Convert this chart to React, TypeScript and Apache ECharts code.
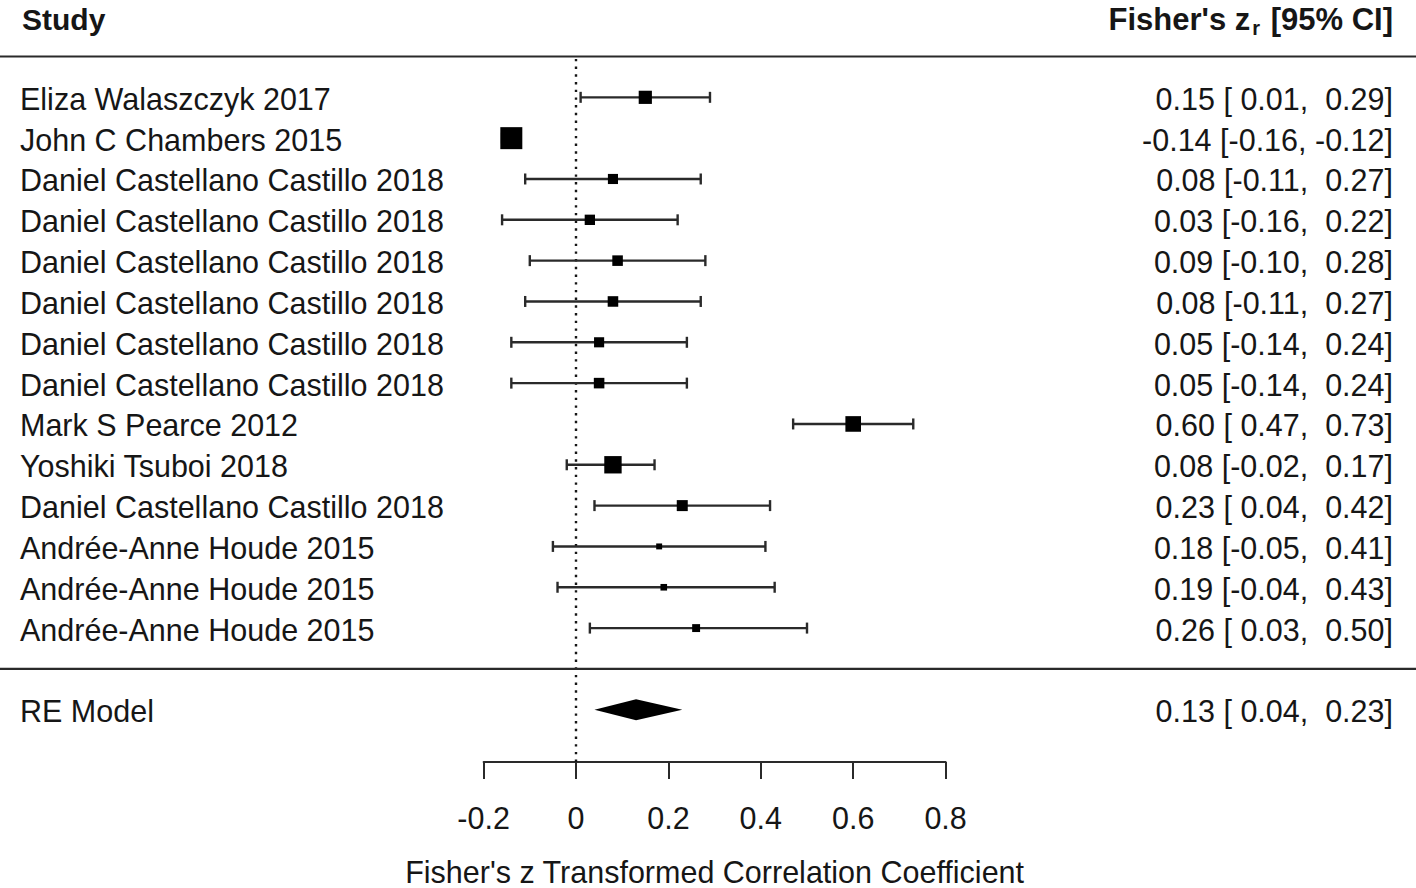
import React, { useEffect, useRef } from "react";
import * as echarts from "echarts";

// ---------- data ----------
const studies = [
  "Eliza Walaszczyk 2017",
  "John C Chambers 2015",
  "Daniel Castellano Castillo 2018",
  "Daniel Castellano Castillo 2018",
  "Daniel Castellano Castillo 2018",
  "Daniel Castellano Castillo 2018",
  "Daniel Castellano Castillo 2018",
  "Daniel Castellano Castillo 2018",
  "Mark S Pearce 2012",
  "Yoshiki Tsuboi 2018",
  "Daniel Castellano Castillo 2018",
  "Andrée-Anne Houde 2015",
  "Andrée-Anne Houde 2015",
  "Andrée-Anne Houde 2015",
];
const estimates = [0.15, -0.14, 0.08, 0.03, 0.09, 0.08, 0.05, 0.05, 0.6, 0.08, 0.23, 0.18, 0.19, 0.26];
const lowerCI = [0.01, -0.16, -0.11, -0.16, -0.1, -0.11, -0.14, -0.14, 0.47, -0.02, 0.04, -0.05, -0.04, 0.03];
const upperCI = [0.29, -0.12, 0.27, 0.22, 0.28, 0.27, 0.24, 0.24, 0.73, 0.17, 0.42, 0.41, 0.43, 0.5];
// relative study weights (square size, largest = 1)
const weights = [0.6, 1.0, 0.46, 0.47, 0.48, 0.48, 0.46, 0.48, 0.71, 0.79, 0.5, 0.27, 0.3, 0.36];

const summaryLabel = "RE Model";
const summaryEstimate = 0.13;
const summaryLower = 0.04;
const summaryUpper = 0.23;

const headerStudy = "Study";
const headerEffectMain = "Fisher's z";
const headerEffectSub = "r";
const headerEffectTail = "[95% CI]";
const axisTitle = "Fisher's z Transformed Correlation Coefficient";
const xMin = -0.2;
const xMax = 0.8;
const xStep = 0.2;

// row positions (R forest plot convention: k ... 1, summary at -1)
const rowY = studies.map((_, i) => studies.length - i);
const summaryY = -1;
const headerLineY = studies.length + 1;
const summaryLineY = 0;

// ---------- style ----------
const FONT = "'Liberation Sans', Arial, Helvetica, sans-serif";
const INK = "#161616";
const LINE = "#2a2a2a";
const MAX_BOX = 22;
const LEFT_X = 20;
const RIGHT_X = 1393;
const TEXT_SIZE = 30.5;

const fmtPad = (v: number) => (v < 0 ? v.toFixed(2) : " " + v.toFixed(2));
const ciText = (e: number, lo: number, hi: number) =>
  `${e.toFixed(2)} [${fmtPad(lo)}, ${fmtPad(hi)}]`;

export default function App() {
  const ref = useRef<HTMLDivElement>(null);

  useEffect(() => {
    document.body.style.margin = "0";
    const chart = echarts.init(ref.current!, null, { renderer: "svg" });

    const ctx = document.createElement("canvas").getContext("2d")!;
    ctx.font = `bold 31px ${FONT}`;
    const wTail = ctx.measureText(headerEffectTail).width;
    const wSpace = ctx.measureText(" ").width;
    ctx.font = `bold 20px ${FONT}`;
    const wSub = ctx.measureText(headerEffectSub).width;

    const subRight = RIGHT_X - wTail - wSpace - 2;
    const mainRight = subRight - wSub - 2;

    const rowData = studies.map((_, i) => [estimates[i], lowerCI[i], upperCI[i], rowY[i]]);
    const labelData = studies.map((_, i) => [0, rowY[i], i]);

    const option: any = {
      animation: false,
      grid: {
        left: 483.6,
        right: 1416 - 945.6,
        top: 56.5,
        bottom: 126,
        containLabel: false,
        outerBoundsMode: "none",
      },
      xAxis: {
        type: "value",
        min: xMin,
        max: xMax,
        interval: xStep,
        position: "bottom",
        axisLine: { show: true, onZero: false, lineStyle: { color: LINE, width: 2 } },
        axisTick: { show: true, inside: false, length: 17, lineStyle: { color: LINE, width: 2 } },
        axisLabel: {
          show: true,
          margin: 40,
          fontSize: TEXT_SIZE,
          fontFamily: FONT,
          color: INK,
          showMinLabel: true,
          showMaxLabel: true,
          hideOverlap: false,
        },
        splitLine: { show: false },
        name: axisTitle,
        nameLocation: "middle",
        nameGap: 94,
        nameTextStyle: { fontSize: TEXT_SIZE, fontFamily: FONT, color: INK },
      },
      yAxis: {
        type: "value",
        min: -2.28,
        max: 15,
        show: false,
      },
      graphic: [
        {
          type: "text",
          x: 22,
          y: 19,
          style: {
            text: headerStudy,
            font: `bold 30px ${FONT}`,
            fill: INK,
            align: "left",
            verticalAlign: "middle",
          },
        },
        {
          type: "text",
          x: mainRight,
          y: 19,
          style: {
            text: headerEffectMain,
            font: `bold 31px ${FONT}`,
            fill: INK,
            align: "right",
            verticalAlign: "middle",
          },
        },
        {
          type: "text",
          x: subRight,
          y: 28,
          style: {
            text: headerEffectSub,
            font: `bold 20px ${FONT}`,
            fill: INK,
            align: "right",
            verticalAlign: "middle",
          },
        },
        {
          type: "text",
          x: RIGHT_X,
          y: 19,
          style: {
            text: headerEffectTail,
            font: `bold 31px ${FONT}`,
            fill: INK,
            align: "right",
            verticalAlign: "middle",
          },
        },
      ],
      series: [
        // separator lines (full width)
        {
          type: "custom",
          silent: true,
          data: [[0, headerLineY], [0, summaryLineY]],
          renderItem: (params: any, api: any) => {
            const p = api.coord([api.value(0), api.value(1)]);
            return {
              type: "line",
              shape: { x1: 0, y1: p[1], x2: api.getWidth(), y2: p[1] },
              style: { stroke: LINE, lineWidth: 2.2 },
            };
          },
        },
        // confidence intervals
        {
          type: "custom",
          silent: true,
          data: rowData,
          encode: { x: [0, 1, 2], y: 3 },
          renderItem: (params: any, api: any) => {
            const y = api.value(3);
            const lo = api.coord([api.value(1), y]);
            const hi = api.coord([api.value(2), y]);
            const st = { stroke: LINE, lineWidth: 2.4 };
            return {
              type: "group",
              children: [
                { type: "line", shape: { x1: lo[0], y1: lo[1], x2: hi[0], y2: hi[1] }, style: st },
                { type: "line", shape: { x1: lo[0], y1: lo[1] - 5.5, x2: lo[0], y2: lo[1] + 5.5 }, style: st },
                { type: "line", shape: { x1: hi[0], y1: hi[1] - 5.5, x2: hi[0], y2: hi[1] + 5.5 }, style: st },
              ],
            };
          },
        },
        // study squares + reference line
        {
          type: "scatter",
          silent: true,
          symbol: "rect",
          data: estimates.map((e, i) => [e, rowY[i]]),
          symbolSize: (_v: any, params: any) => weights[params.dataIndex] * MAX_BOX,
          itemStyle: { color: "#000", opacity: 1 },
          z: 5,
          markLine: {
            silent: true,
            symbol: ["none", "none"],
            label: { show: false },
            lineStyle: { type: [2.4, 5.3], width: 2.4, color: INK, opacity: 1 },
            data: [{ xAxis: 0 }],
            z: 1,
          },
        },
        // summary diamond
        {
          type: "custom",
          silent: true,
          data: [[summaryEstimate, summaryLower, summaryUpper, summaryY]],
          encode: { x: [0, 1, 2], y: 3 },
          renderItem: (params: any, api: any) => {
            const y = api.value(3);
            const c = api.coord([api.value(0), y]);
            const lo = api.coord([api.value(1), y]);
            const hi = api.coord([api.value(2), y]);
            const h = 10.5;
            return {
              type: "polygon",
              shape: {
                points: [
                  [lo[0], lo[1]],
                  [c[0], c[1] - h],
                  [hi[0], hi[1]],
                  [c[0], c[1] + h],
                ],
              },
              style: { fill: "#000" },
            };
          },
        },
        // row labels (left: study, right: estimate [CI])
        {
          type: "custom",
          silent: true,
          data: [...labelData, [0, summaryY, -1]],
          encode: { x: 0, y: 1 },
          renderItem: (params: any, api: any) => {
            const idx = api.value(2);
            const p = api.coord([0, api.value(1)]);
            const y = p[1] + 1.5;
            const left = idx < 0 ? summaryLabel : studies[idx];
            const right =
              idx < 0
                ? ciText(summaryEstimate, summaryLower, summaryUpper)
                : ciText(estimates[idx], lowerCI[idx], upperCI[idx]);
            const base = { fontSize: TEXT_SIZE, fontFamily: FONT, fill: INK, verticalAlign: "middle" };
            return {
              type: "group",
              children: [
                { type: "text", x: LEFT_X, y, style: { ...base, text: left, align: "left" } },
                { type: "text", x: RIGHT_X, y, style: { ...base, text: right, align: "right" } },
              ],
            };
          },
        },
      ],
    };

    chart.setOption(option);
    return () => chart.dispose();
  }, []);

  return (
    <div
      ref={ref}
      style={{ position: "absolute", left: 0, top: 0, width: 1416, height: 888, background: "#fff" }}
    />
  );
}
